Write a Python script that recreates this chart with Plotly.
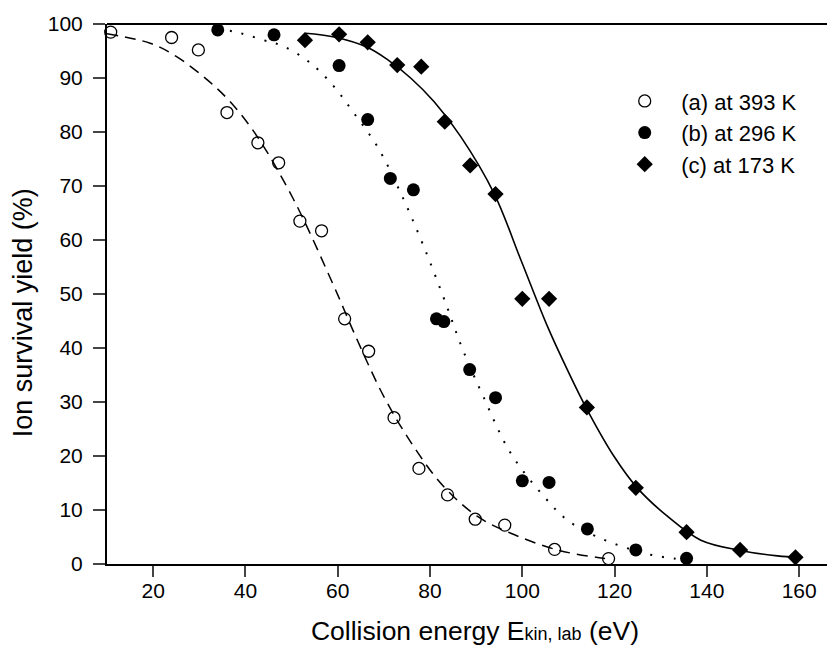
import plotly.graph_objects as go

# ---- measured data points ----
a_x = [10.8, 24.0, 29.8, 36.0, 42.7, 47.2, 51.8, 56.5, 61.5, 66.7, 72.2, 77.6, 83.8, 89.8, 96.2, 107.0, 118.7]
a_y = [98.5, 97.5, 95.2, 83.6, 78.0, 74.3, 63.5, 61.7, 45.4, 39.4, 27.1, 17.7, 12.8, 8.3, 7.2, 2.7, 1.0]

b_x = [34.0, 46.2, 60.3, 66.5, 71.4, 76.4, 81.4, 83.0, 88.6, 94.2, 100.0, 105.8, 114.1, 124.6, 135.6]
b_y = [98.9, 98.0, 92.3, 82.3, 71.4, 69.3, 45.4, 44.9, 36.0, 30.8, 15.4, 15.1, 6.5, 2.6, 1.05]

c_x = [52.9, 60.3, 66.5, 72.9, 78.1, 83.2, 88.7, 94.2, 100.0, 105.8, 114.0, 124.6, 135.6, 147.2, 159.2]
c_y = [97.0, 98.1, 96.6, 92.4, 92.1, 81.9, 73.8, 68.5, 49.1, 49.1, 29.0, 14.1, 5.9, 2.6, 1.24]

# ---- fitted curves ----
fa_x = [10, 19.5, 25, 31.8, 36.8, 42.6, 50.5, 59.2, 63.6, 70, 76.5, 83, 90.3, 97.5, 107.6, 116.3, 119]
fa_y = [98.2, 96.4, 94.0, 89.6, 85.5, 79.1, 67.4, 51.4, 42.7, 31.0, 21.7, 14.3, 8.8, 5.7, 2.6, 1.2, 0.9]

fb_x = [34, 37.5, 44, 48.4, 54.2, 59.2, 63.5, 68.6, 73.7, 78.5, 83.4, 87, 91.4, 97.5, 104.7, 109.8, 116.3, 126.4, 132.9, 135.5]
fb_y = [99.0, 98.6, 97.0, 95.8, 92.7, 88.4, 83.5, 77.3, 68.6, 59.1, 48.3, 39.9, 31.3, 20.5, 12.5, 8.1, 5.0, 2.0, 1.0, 0.8]

fc_x = [53, 59.2, 66.4, 70.8, 75.8, 80.9, 86.7, 93.9, 99.7, 105.5, 109.8, 114.1, 119.9, 125, 131.5, 138.7, 147.3, 155.3, 160]
fc_y = [98.3, 97.6, 95.7, 93.4, 90.0, 85.6, 79.1, 68.6, 56.3, 43.9, 35.9, 28.5, 19.9, 14.0, 8.8, 4.4, 2.5, 1.5, 1.2]

labels = ["(a) at 393 K", "(b) at 296 K", "(c) at 173 K"]
x_ticks = [20, 40, 60, 80, 100, 120, 140, 160]
y_ticks = [0, 10, 20, 30, 40, 50, 60, 70, 80, 90, 100]

FONT = "Liberation Sans, Arial, sans-serif"

fig = go.Figure()

fig.add_trace(go.Scatter(x=fa_x, y=fa_y, mode="lines", line=dict(color="black", width=1.5, dash="11px,7px", shape="spline"),
                         showlegend=False, hoverinfo="skip"))
fig.add_trace(go.Scatter(x=fb_x, y=fb_y, mode="lines", line=dict(color="black", width=2, dash="2px,10px", shape="spline"),
                         showlegend=False, hoverinfo="skip"))
fig.add_trace(go.Scatter(x=fc_x, y=fc_y, mode="lines", line=dict(color="black", width=1.6, shape="spline"),
                         showlegend=False, hoverinfo="skip"))

fig.add_trace(go.Scatter(x=a_x, y=a_y, mode="markers", name=labels[0], legendgroup="a",
                         marker=dict(symbol="circle-open", size=12, color="black", line=dict(width=1.3, color="black")),
                         cliponaxis=False))
fig.add_trace(go.Scatter(x=b_x, y=b_y, mode="markers", name=labels[1], legendgroup="b",
                         marker=dict(symbol="circle", size=13, color="black"), cliponaxis=False))
fig.add_trace(go.Scatter(x=c_x, y=c_y, mode="markers", name=labels[2], legendgroup="c",
                         marker=dict(symbol="diamond", size=12.5, color="black"), cliponaxis=False))

fig.update_layout(
    width=835, height=646,
    margin=dict(l=99, r=0, t=16, b=90),
    paper_bgcolor="white", plot_bgcolor="white",
    font=dict(family=FONT, size=21, color="black"),
    legend=dict(x=0.681, y=0.896, xanchor="left", yanchor="top", font=dict(size=22),
                bgcolor="rgba(0,0,0,0)", tracegroupgap=0, traceorder="grouped", itemwidth=63),
    xaxis=dict(range=[10, 169.5], tickvals=x_ticks, ticks="outside", ticklen=11, tickwidth=2,
               ticklabelstandoff=-4,
               showline=True, linewidth=2, linecolor="black", mirror=False, showgrid=False, zeroline=False,
               title=dict(text="Collision energy E<span style='font-size:18px'>kin, lab</span> (eV)",
                          font=dict(size=26.5), standoff=20)),
    yaxis=dict(range=[0, 100], tickvals=y_ticks, ticks="outside", ticklen=12, tickwidth=2,
               ticklabelstandoff=6,
               showline=True, linewidth=2, linecolor="black", showgrid=False, zeroline=False,
               title=dict(text="Ion survival yield (%)&nbsp;&nbsp;&nbsp;&nbsp;&nbsp;", font=dict(size=27), standoff=10)),
)

# top border line of the frame
fig.add_shape(type="line", xref="paper", yref="paper", x0=0, x1=1, y0=1, y1=1,
              line=dict(color="black", width=2))

fig.write_html("out.html")
